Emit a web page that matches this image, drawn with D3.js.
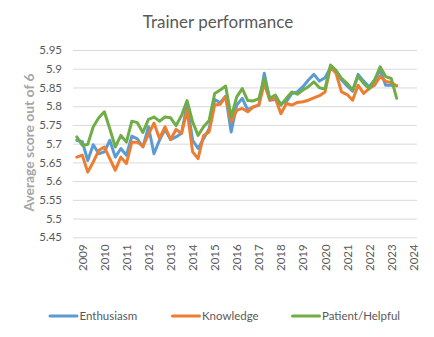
<!DOCTYPE html>
<html>
<head>
<meta charset="utf-8">
<script src="https://cdn.jsdelivr.net/npm/d3@7"></script>
<style>
  html, body { margin: 0; padding: 0; background: #fff; }
  svg { display: block; font-family: Lato, "Open Sans", sans-serif; }
</style>
</head>
<body>
<svg id="chart" width="434" height="337"></svg>
<script>
const title = "Trainer performance";
const yAxisTitle = "Average score out of 6";
const seriesNames = ["Enthusiasm", "Knowledge", "Patient/Helpful"];
const seriesColors = ["#5B9BD5", "#ED7D31", "#70AD47"];

const quarters = [
  "2008-10",
  "2009-01","2009-04","2009-07","2009-10",
  "2010-01","2010-04","2010-07","2010-10",
  "2011-01","2011-04","2011-07","2011-10",
  "2012-01","2012-04","2012-07","2012-10",
  "2013-01","2013-04","2013-07","2013-10",
  "2014-01","2014-04","2014-07","2014-10",
  "2015-01","2015-04","2015-07","2015-10",
  "2016-01","2016-04","2016-07","2016-10",
  "2017-01","2017-04","2017-07","2017-10",
  "2018-01","2018-04","2018-07","2018-10",
  "2019-01","2019-04","2019-07","2019-10",
  "2020-01","2020-04","2020-07","2020-10",
  "2021-01","2021-04","2021-07","2021-10",
  "2022-01","2022-04","2022-07","2022-10",
  "2023-01","2023-04"
];

const enthusiasm = [
  5.709, 5.705, 5.655, 5.697, 5.673, 5.678, 5.709, 5.664, 5.687, 5.669,
  5.720, 5.713, 5.691, 5.745, 5.673, 5.709, 5.738, 5.711, 5.718, 5.728,
  5.805, 5.709, 5.687, 5.713, 5.740, 5.818, 5.809, 5.827, 5.731, 5.803,
  5.821, 5.790, 5.798, 5.803, 5.888, 5.816, 5.818, 5.807, 5.812, 5.834,
  5.838, 5.852, 5.870, 5.885, 5.867, 5.876, 5.903, 5.890, 5.870, 5.854,
  5.840, 5.885, 5.867, 5.852, 5.870, 5.896, 5.856, 5.856, 5.855
];

const knowledge = [
  5.664, 5.669, 5.624, 5.651, 5.682, 5.691, 5.660, 5.629, 5.664, 5.647,
  5.704, 5.704, 5.693, 5.725, 5.755, 5.714, 5.745, 5.711, 5.738, 5.727,
  5.789, 5.678, 5.660, 5.722, 5.731, 5.803, 5.805, 5.825, 5.758, 5.789,
  5.794, 5.785, 5.798, 5.803, 5.861, 5.816, 5.821, 5.780, 5.807, 5.803,
  5.810, 5.812, 5.816, 5.822, 5.828, 5.838, 5.905, 5.888, 5.838, 5.831,
  5.816, 5.856, 5.834, 5.847, 5.856, 5.880, 5.866, 5.863, 5.854
];

const patientHelpful = [
  5.718, 5.696, 5.698, 5.745, 5.769, 5.785, 5.740, 5.691, 5.722, 5.704,
  5.760, 5.756, 5.730, 5.765, 5.771, 5.760, 5.771, 5.769, 5.748, 5.775,
  5.815, 5.758, 5.722, 5.745, 5.762, 5.834, 5.843, 5.854, 5.771, 5.825,
  5.847, 5.815, 5.814, 5.820, 5.875, 5.821, 5.830, 5.803, 5.821, 5.838,
  5.832, 5.843, 5.852, 5.865, 5.849, 5.846, 5.910, 5.896, 5.874, 5.861,
  5.843, 5.880, 5.861, 5.847, 5.870, 5.905, 5.879, 5.874, 5.821
];

const yTicks = [5.45, 5.5, 5.55, 5.6, 5.65, 5.7, 5.75, 5.8, 5.85, 5.9, 5.95];
const yTickLabels = ["5.45","5.5","5.55","5.6","5.65","5.7","5.75","5.8","5.85","5.9","5.95"];
const xYearLabels = ["2009","2010","2011","2012","2013","2014","2015","2016","2017","2018","2019","2020","2021","2022","2023","2024"];

const allSeries = [enthusiasm, knowledge, patientHelpful];

const svg = d3.select("#chart");
const plotLeft = 73, plotRight = 417;
const textColor = "#595959";

const parseQ = d3.timeParse("%Y-%m");
const dates = quarters.map(parseQ);
const yearDates = xYearLabels.map(s => new Date(+s, 0, 1));

const x = d3.scaleTime()
  .domain([yearDates[0], yearDates[yearDates.length - 1]])
  .range([82.3, 413.3]);

const y = d3.scaleLinear()
  .domain([5.45, 5.95])
  .range([237.3, 50]);

// Title
svg.append("text")
  .attr("x", 218).attr("y", 28)
  .attr("text-anchor", "middle")
  .attr("fill", textColor)
  .attr("font-size", 17)
  .text(title);

// Gridlines
const yAxis = d3.axisLeft(y)
  .tickValues(yTicks)
  .tickSize(-(plotRight - plotLeft))
  .tickPadding(11)
  .tickFormat((d, i) => yTickLabels[i]);

const gy = svg.append("g")
  .attr("transform", `translate(${plotLeft},0)`)
  .call(yAxis);
gy.select(".domain").remove();
gy.selectAll(".tick line").attr("stroke", "#D9D9D9").attr("stroke-width", 1);
gy.selectAll(".tick text")
  .attr("fill", textColor)
  .attr("font-size", 11.5)
  .attr("font-family", "Lato, sans-serif");

// X axis labels (rotated)
const xAxis = d3.axisBottom(x)
  .tickValues(yearDates)
  .tickSize(0)
  .tickFormat((d, i) => xYearLabels[i]);

const gx = svg.append("g")
  .attr("transform", `translate(0,${y(5.45)})`)
  .call(xAxis);
gx.select(".domain").remove();
gx.selectAll(".tick text")
  .attr("fill", textColor)
  .attr("font-size", 11.5)
  .attr("font-family", "Lato, sans-serif")
  .attr("text-anchor", "end")
  .attr("transform", "rotate(-90)")
  .attr("x", -7)
  .attr("y", 0)
  .attr("dy", "0.35em");

// Y axis title
svg.append("text")
  .attr("transform", `translate(33.5,142.5) rotate(-90)`)
  .attr("text-anchor", "middle")
  .attr("fill", "#A6A6A6")
  .attr("font-weight", "bold")
  .attr("font-size", 13.5)
  .attr("textLength", 138)
  .attr("lengthAdjust", "spacingAndGlyphs")
  .text(yAxisTitle);

// Lines
const line = d3.line()
  .x((d, i) => x(dates[i]))
  .y(d => y(d));

svg.append("g").selectAll("path")
  .data(allSeries)
  .join("path")
  .attr("d", d => line(d))
  .attr("fill", "none")
  .attr("stroke", (d, i) => seriesColors[i])
  .attr("stroke-width", 3)
  .attr("stroke-linejoin", "round")
  .attr("stroke-linecap", "round");

// Legend
const legendX = [50, 172.5, 292.5];
const legend = svg.append("g").selectAll("g")
  .data(seriesNames)
  .join("g")
  .attr("transform", (d, i) => `translate(${legendX[i]},316)`);
legend.append("line")
  .attr("x1", 0).attr("x2", 27)
  .attr("y1", 0).attr("y2", 0)
  .attr("stroke", (d, i) => seriesColors[i])
  .attr("stroke-width", 3)
  .attr("stroke-linecap", "round");
legend.append("text")
  .attr("x", 29.5).attr("y", 0)
  .attr("dy", "0.35em")
  .attr("fill", textColor)
  .attr("font-size", 11.5)
  .text(d => d);
</script>
</body>
</html>
